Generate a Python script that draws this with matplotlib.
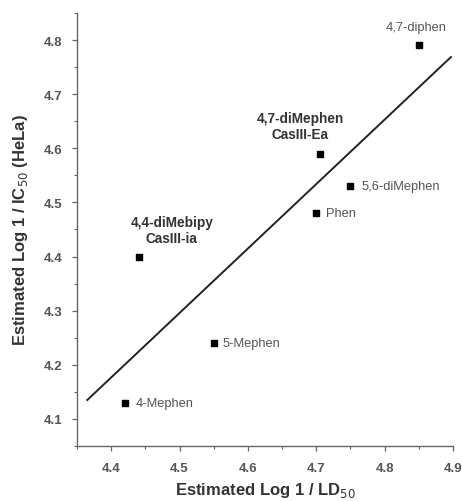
import numpy as np
import matplotlib
matplotlib.use("Agg")
import matplotlib.pyplot as plt
from matplotlib.ticker import MultipleLocator

plt.rcParams['font.family'] = ['Liberation Sans', 'DejaVu Sans']

# Compounds and their estimated activities
compounds = ["4-Mephen", "4,4-diMebipy", "5-Mephen", "Phen", "4,7-diMephen", "5,6-diMephen", "4,7-diphen"]
log_ld50 = [4.42, 4.44, 4.55, 4.70, 4.705, 4.75, 4.85]
log_ic50 = [4.13, 4.40, 4.24, 4.48, 4.59, 4.53, 4.79]

# Label text and offsets (points) for each compound
label_text = ["4-Mephen", "4,4-diMebipy\nCasIII-ia", "5-Mephen", "Phen",
              "4,7-diMephen\nCasIII-Ea", "5,6-diMephen", "4,7-diphen"]
label_bold = [False, True, False, False, True, False, False]
label_offset = [(7.5, 0), (24, 19), (6, 0), (7, 0), (-14, 20), (8, 0), (-2, 13)]
label_ha = ["left", "center", "left", "left", "center", "left", "center"]

fit_range = [4.365, 4.897]

fig = plt.figure(figsize=(4.62, 5.02), dpi=100)
ax = fig.add_axes([0.1667, 0.1096, 0.8138, 0.8625])

ax.scatter(log_ld50, log_ic50, marker="s", s=20, color="black", zorder=3)

slope, intercept = np.polyfit(log_ld50, log_ic50, 1)
xf = np.array(fit_range)
ax.plot(xf, slope * xf + intercept, color="#222222", lw=1.4)

for x, y, t, b, off, ha in zip(log_ld50, log_ic50, label_text, label_bold, label_offset, label_ha):
    ax.annotate(t, (x, y), xytext=off, textcoords="offset points",
                ha=ha, va="center",
                fontsize=9.8 if b else 9.3,
                fontweight="bold" if b else "normal",
                color="#333333" if b else "#555555",
                linespacing=1.15)

ax.set_xlim(4.35, 4.9)
ax.set_ylim(4.05, 4.85)
ax.xaxis.set_minor_locator(MultipleLocator(0.05))
ax.yaxis.set_minor_locator(MultipleLocator(0.05))
ax.set_xticks([4.4, 4.5, 4.6, 4.7, 4.8, 4.9])
ax.set_xticklabels(["4.4", "4.5", "4.6", "4.7", "4.8", "4.9"])
ax.set_yticks([4.1, 4.2, 4.3, 4.4, 4.5, 4.6, 4.7, 4.8])
ax.set_yticklabels(["4.1", "4.2", "4.3", "4.4", "4.5", "4.6", "4.7", "4.8"])

for s in ["top", "right"]:
    ax.spines[s].set_visible(False)
for s in ["left", "bottom"]:
    ax.spines[s].set_color("#666666")
    ax.spines[s].set_linewidth(1.0)

ax.tick_params(axis="y", which="major", direction="out", length=3.5, width=0.9, color="#666666",
               labelsize=9.5, labelcolor="#555555", pad=7)
ax.tick_params(axis="x", which="major", direction="out", length=3.5, width=0.9, color="#666666",
               labelsize=9.5, labelcolor="#555555", pad=8)
ax.tick_params(which="minor", direction="out", length=2, width=0.8, color="#666666")
for lbl in ax.get_xticklabels() + ax.get_yticklabels():
    lbl.set_fontweight("bold")

ax.set_xlabel("Estimated Log 1 / LD$_{50}$", fontsize=12, fontweight="bold", color="#333333", labelpad=4.5)
ax.set_ylabel("Estimated Log 1 / IC$_{50}$ (HeLa)", fontsize=12, fontweight="bold", color="#333333", labelpad=10)

fig.savefig("out.png", dpi=100)
